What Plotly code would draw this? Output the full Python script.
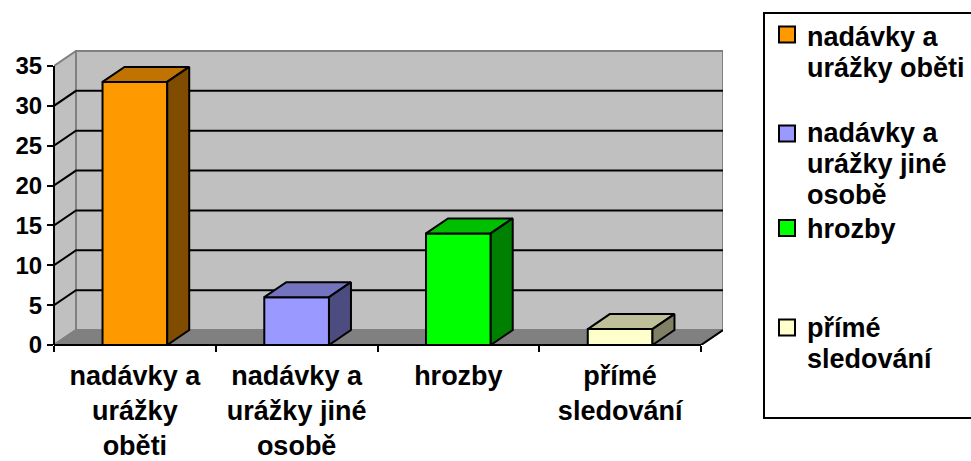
import plotly.graph_objects as go

# ---------------- data ----------------
categories = ["nadávky a urážky oběti", "nadávky a urážky jiné osobě", "hrozby", "přímé sledování"]
tick_labels = ["nadávky a<br>urážky<br>oběti", "nadávky a<br>urážky jiné<br>osobě", "hrozby", "přímé<br>sledování"]
legend_lines = [["nadávky a", "urážky oběti"], ["nadávky a", "urážky jiné", "osobě"], ["hrozby"], ["přímé", "sledování"]]
values = [33, 6, 14, 2]
y_ticks = [0, 5, 10, 15, 20, 25, 30, 35]

# ---------------- style ----------------
front_colors = ["#FF9900", "#9999FF", "#00FF00", "#FFFFCC"]
top_colors = ["#C07300", "#7373BF", "#00BF00", "#BFBF99"]
side_colors = ["#804C00", "#4C4C80", "#008000", "#808066"]
WALL = "#C0C0C0"
FLOOR = "#808080"
EDGE = "#808080"
FONT = "Liberation Sans"

W, H = 971, 461
ML, MR, MT, MB = 54, 248, 50, 116
PW, PH = W - ML - MR, H - MT - MB
DX = 0.136   # depth offset in x units
DY = 1.88    # depth offset in y units
BW = 0.4     # bar width
YMAX = y_ticks[-1]
XR = [-0.5, len(values) - 0.5 + DX]
YR = [0, 37]

def px_x(px):
    return (px - ML) / PW

def px_y(py):
    return (H - MB - py) / PH

fig = go.Figure()

# front faces
fig.add_trace(go.Bar(
    x=list(range(len(values))), y=values, width=BW,
    marker=dict(color=front_colors, line=dict(color="black", width=2)),
    hoverinfo="skip", showlegend=False,
))

# top and side faces of bars
for i, v in enumerate(values):
    x0, x1 = i - BW / 2, i + BW / 2
    fig.add_trace(go.Scatter(
        x=[x0, x1, x1 + DX, x0 + DX, x0], y=[v, v, v + DY, v + DY, v],
        fill="toself", fillcolor=top_colors[i], mode="lines",
        line=dict(color="black", width=2), hoverinfo="skip", showlegend=False))
    fig.add_trace(go.Scatter(
        x=[x1, x1 + DX, x1 + DX, x1, x1], y=[0, DY, v + DY, v, 0],
        fill="toself", fillcolor=side_colors[i], mode="lines",
        line=dict(color="black", width=2), hoverinfo="skip", showlegend=False))

# invisible trace for the boundary tick axis
fig.add_trace(go.Scatter(x=[XR[0]], y=[0], xaxis="x2", mode="markers",
                         marker=dict(opacity=0), hoverinfo="skip", showlegend=False))

shapes = []
xl, xr = XR[0], len(values) - 0.5
# left wall
shapes.append(dict(type="path", layer="below", xref="x", yref="y",
                   path=f"M{xl},0 L{xl+DX},{DY} L{xl+DX},{YMAX+DY} L{xl},{YMAX} Z",
                   fillcolor=WALL, line=dict(color=EDGE, width=2)))
# back wall
shapes.append(dict(type="rect", layer="below", xref="x", yref="y",
                   x0=xl + DX, x1=xr + DX, y0=DY, y1=YMAX + DY,
                   fillcolor=WALL, line=dict(color=EDGE, width=2)))
# floor
shapes.append(dict(type="path", layer="below", xref="x", yref="y",
                   path=f"M{xl},0 L{xr},0 L{xr+DX},{DY} L{xl+DX},{DY} Z",
                   fillcolor=FLOOR, line=dict(color=EDGE, width=2)))
# gridlines
for v in y_ticks[1:-1]:
    shapes.append(dict(type="path", layer="below", xref="x", yref="y",
                       path=f"M{xl},{v} L{xl+DX},{v+DY} L{xr+DX},{v+DY}",
                       line=dict(color="black", width=2)))
# front axis lines
shapes.append(dict(type="line", layer="above", xref="paper", yref="y",
                   x0=0, x1=0, y0=0, y1=YMAX, line=dict(color="black", width=2)))
shapes.append(dict(type="line", layer="above", xref="x", yref="paper",
                   x0=xl, x1=xr, y0=0, y1=0, line=dict(color="black", width=2)))
shapes.append(dict(type="line", layer="above", xref="x", yref="y",
                   x0=xr, x1=xr + DX, y0=0, y1=DY, line=dict(color="black", width=2)))

# legend box
shapes.append(dict(type="rect", xref="paper", yref="paper",
                   x0=px_x(764), x1=px_x(990), y0=px_y(13), y1=px_y(418),
                   line=dict(color="black", width=2), fillcolor="rgba(0,0,0,0)"))

annotations = []
swatch_y = [34.5, 133.5, 228, 327.5]
line_y = [[37, 68], [133, 164, 195], [229], [328, 359]]
for i in range(len(values)):
    shapes.append(dict(type="rect", xref="paper", yref="paper",
                       x0=px_x(779), x1=px_x(795), y0=px_y(swatch_y[i] + 8), y1=px_y(swatch_y[i] - 8),
                       fillcolor=front_colors[i], line=dict(color="black", width=2)))
    for txt, yy in zip(legend_lines[i], line_y[i]):
        annotations.append(dict(xref="paper", yref="paper", x=px_x(805), y=px_y(yy),
                                text=txt, showarrow=False, xanchor="left", yanchor="middle",
                                font=dict(family=FONT, size=27, color="black", weight="bold")))

fig.update_layout(
    width=W, height=H,
    margin=dict(l=ML, r=MR, t=MT, b=MB, pad=0, autoexpand=False),
    paper_bgcolor="white", plot_bgcolor="white",
    showlegend=False,
    shapes=shapes, annotations=annotations,
    xaxis=dict(range=XR, tickmode="array", tickvals=list(range(len(values))), ticktext=tick_labels,
               ticks="", showgrid=False, zeroline=False, showline=False, ticklabelstandoff=12,
               automargin=False,
               tickfont=dict(family=FONT, size=27, color="black", weight="bold")),
    xaxis2=dict(range=XR, overlaying="x", anchor="y", side="bottom", automargin=False,
                tickmode="array", tickvals=[k - 0.5 for k in range(len(values) + 1)],
                ticks="outside", ticklen=6, tickwidth=2, tickcolor="black",
                showticklabels=False, showgrid=False, zeroline=False, showline=False),
    yaxis=dict(range=YR, tickmode="array", tickvals=y_ticks, ticks="outside", ticklen=6,
               tickwidth=2, tickcolor="black", showgrid=False, zeroline=False, showline=False,
               automargin=False,
               tickfont=dict(family=FONT, size=24, color="black", weight="bold")),
)

fig.write_html("out.html", config={"displayModeBar": False},
               post_script="document.body.style.margin='0';")
